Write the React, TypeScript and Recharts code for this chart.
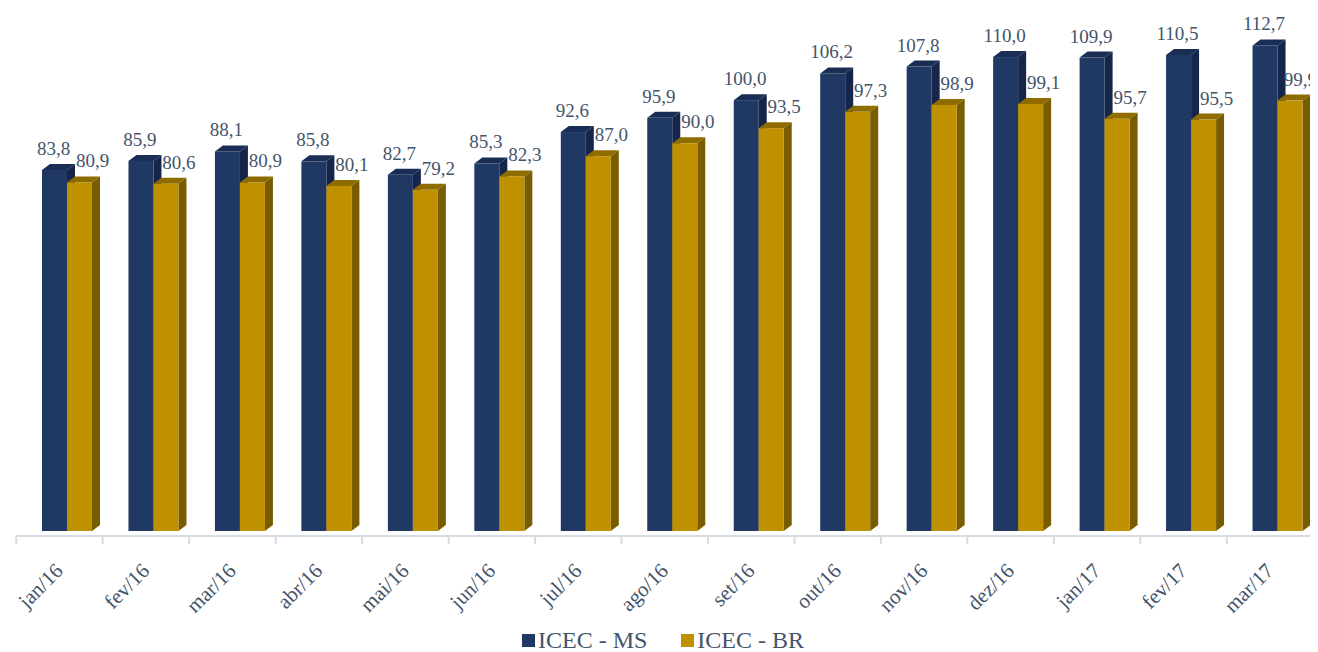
import { Bar, BarChart, LabelList, XAxis, YAxis } from "recharts";

const MONTHS = [
  "jan/16", "fev/16", "mar/16", "abr/16", "mai/16", "jun/16", "jul/16", "ago/16",
  "set/16", "out/16", "nov/16", "dez/16", "jan/17", "fev/17", "mar/17",
];
const ICEC_MS = [83.8, 85.9, 88.1, 85.8, 82.7, 85.3, 92.6, 95.9, 100.0, 106.2, 107.8, 110.0, 109.9, 110.5, 112.7];
const ICEC_BR = [80.9, 80.6, 80.9, 80.1, 79.2, 82.3, 87.0, 90.0, 93.5, 97.3, 98.9, 99.1, 95.7, 95.5, 99.9];

const SERIF = "'Times New Roman', 'Liberation Serif', 'DejaVu Serif', serif";
const TEXT = "#44546A";
const MS = { front: "#203864", side: "#15264A", top: "#1A2E55" };
const BR = { front: "#BF9000", side: "#7A5C00", top: "#8E6C00" };

const CHART_W = 1310;
// fake 3D: floor shift + depth of the extruded faces
const SHIFT_X = 8;
const SHIFT_Y = 5;
const DEPTH_X = 8;
const DEPTH_Y = 6;
const BAND = 1289 / MONTHS.length;

const data = MONTHS.map((m, i) => ({ month: m, ms: ICEC_MS[i], br: ICEC_BR[i] }));

const fmt = (v: number) => v.toFixed(1).replace(".", ",");

function Bar3D(props: any) {
  const { x, y, width, height, colors } = props;
  if (width == null || height == null) return null;
  const fx = x + SHIFT_X;
  const fy = y - SHIFT_Y;
  const bottom = fy + height;
  const r = fx + width;
  return (
    <g>
      <polygon
        points={`${fx},${fy} ${fx + DEPTH_X},${fy - DEPTH_Y} ${r + DEPTH_X},${fy - DEPTH_Y} ${r},${fy}`}
        fill={colors.top}
      />
      <polygon
        points={`${r},${fy} ${r + DEPTH_X},${fy - DEPTH_Y} ${r + DEPTH_X},${bottom - DEPTH_Y} ${r},${bottom}`}
        fill={colors.side}
      />
      <rect x={fx} y={fy} width={width} height={height} fill={colors.front} />
    </g>
  );
}

function makeLabel(offset: number) {
  return (p: any) => {
    const cx = p.x + SHIFT_X + p.width / 2 + offset;
    // keep the last label inside the picture
    const tooFar = cx + 23 > CHART_W;
    return (
      <text
        x={tooFar ? CHART_W - 1 : cx}
        y={p.y - SHIFT_Y - 15}
        textAnchor={tooFar ? "end" : "middle"}
        style={{ fontFamily: SERIF, fontSize: 19, fill: TEXT }}
      >
        {fmt(Number(p.value))}
      </text>
    );
  };
}

function MonthTick(props: any) {
  const { x, y, payload, index } = props;
  const left = x - BAND / 2;
  const ax = x + 5;
  const ay = y + 36;
  return (
    <g>
      <line x1={left} y1={y} x2={left} y2={y + 8} stroke="#D6DCE4" strokeWidth={2} />
      {index === MONTHS.length - 1 && (
        <line x1={x + BAND / 2} y1={y} x2={x + BAND / 2} y2={y + 8} stroke="#D6DCE4" strokeWidth={2} />
      )}
      <text
        x={ax}
        y={ay}
        textAnchor="end"
        transform={`rotate(-45, ${ax}, ${ay})`}
        style={{ fontFamily: SERIF, fontSize: 21, fill: TEXT }}
      >
        {payload.value}
      </text>
    </g>
  );
}

function LegendItem({ color, label }: { color: string; label: string }) {
  return (
    <span style={{ display: "flex", alignItems: "center", gap: 3 }}>
      <span style={{ display: "inline-block", width: 13, height: 13, background: color }} />
      <span>{label}</span>
    </span>
  );
}

export default function App() {
  return (
    <div style={{ position: "relative", width: CHART_W, height: 644, background: "#fff" }}>
      <BarChart
        width={CHART_W}
        height={644}
        data={data}
        margin={{ top: 11, right: 5, left: 8, bottom: 0 }}
        barGap={0}
        barSize={25}
      >
        <YAxis hide domain={[0, 120]} />
        <XAxis
          dataKey="month"
          height={116}
          interval={0}
          tickLine={false}
          tickSize={0}
          tickMargin={0}
          axisLine={{ stroke: "#D6DCE4", strokeWidth: 2 }}
          tick={<MonthTick />}
        />
        <Bar dataKey="ms" name="ICEC - MS" isAnimationActive={false} shape={(p: any) => <Bar3D {...p} colors={MS} />}>
          <LabelList dataKey="ms" content={makeLabel(-1)} />
        </Bar>
        <Bar dataKey="br" name="ICEC - BR" isAnimationActive={false} shape={(p: any) => <Bar3D {...p} colors={BR} />}>
          <LabelList dataKey="br" content={makeLabel(13)} />
        </Bar>
      </BarChart>
      <div
        style={{
          position: "absolute",
          left: 0,
          right: 0,
          top: 620,
          display: "flex",
          justifyContent: "center",
          gap: 34,
          fontFamily: SERIF,
          fontSize: 24,
          color: TEXT,
          lineHeight: "24px",
        }}
      >
        <LegendItem color={MS.front} label="ICEC - MS" />
        <LegendItem color={BR.front} label="ICEC - BR" />
      </div>
    </div>
  );
}
